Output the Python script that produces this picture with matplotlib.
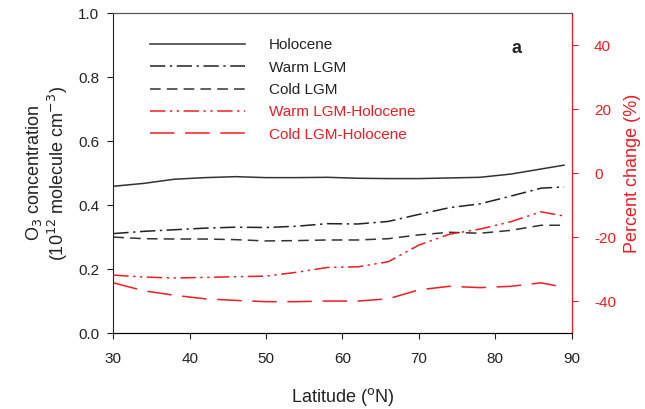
import matplotlib
matplotlib.use("Agg")
import matplotlib.pyplot as plt

plt.rcParams['font.family'] = ['Liberation Sans', 'DejaVu Sans']
plt.rcParams['axes.unicode_minus'] = False

# latitude grid (4x5 model box centres)
lat = [30, 34, 38, 42, 46, 50, 54, 58, 62, 66, 70, 74, 78, 82, 86, 89]

# O3 concentration (1e12 molecule cm-3)
holocene = [0.459, 0.468, 0.481, 0.486, 0.489, 0.486, 0.486, 0.487,
            0.484, 0.483, 0.483, 0.485, 0.487, 0.497, 0.513, 0.525]
warm_lgm = [0.311, 0.318, 0.323, 0.328, 0.331, 0.330, 0.334, 0.342,
            0.341, 0.349, 0.371, 0.392, 0.404, 0.428, 0.453, 0.457]
cold_lgm = [0.300, 0.295, 0.294, 0.294, 0.292, 0.288, 0.289, 0.291,
            0.291, 0.295, 0.307, 0.315, 0.312, 0.321, 0.337, 0.337]

# percent change relative to Holocene
warm_diff = [-31.9, -32.5, -32.8, -32.6, -32.4, -32.2, -31.0, -29.5,
             -29.3, -27.7, -22.5, -19.1, -17.5, -15.2, -12.1, -13.4]
cold_diff = [-34.3, -36.8, -38.2, -39.3, -39.8, -40.2, -40.2, -40.0,
             -40.0, -39.3, -36.5, -35.4, -35.8, -35.4, -34.3, -35.7]

red = '#ee1c24'

fig = plt.figure(figsize=(6.45, 4.09), dpi=100)
ax = fig.add_axes([0.1757, 0.1858, 0.8863 - 0.1757, 0.9675 - 0.1858])
ax2 = ax.twinx()

l1, = ax.plot(lat, holocene, color='#333333', lw=1.1, label='Holocene')
l2, = ax.plot(lat, warm_lgm, color='#222222', lw=1.1, dashes=(10, 3, 1.5, 3),
              label='Warm LGM')
l3, = ax.plot(lat, cold_lgm, color='#333333', lw=1.1, dashes=(7, 4),
              label='Cold LGM')
l4, = ax2.plot(lat, warm_diff, color=red, lw=1.1,
               dashes=(10, 3, 1.5, 3, 1.5, 3), label='Warm LGM-Holocene')
l5, = ax2.plot(lat, cold_diff, color=red, lw=1.1, dashes=(16, 7),
               label='Cold LGM-Holocene')

ax.set_xlim(30, 90)
ax.set_ylim(0, 1.0)
ax2.set_ylim(-50, 50)
ax.set_xticks([30, 40, 50, 60, 70, 80, 90])
ax.set_yticks([0.0, 0.2, 0.4, 0.6, 0.8, 1.0])
ax.set_yticklabels(['0.0', '0.2', '0.4', '0.6', '0.8', '1.0'])
ax2.set_yticks([-40, -20, 0, 20, 40])

ax.tick_params(labelsize=11, direction='out', length=4, width=0.8,
               colors='#222222')
ax.tick_params(axis='x', pad=10)
ax.tick_params(axis='y', pad=6)
ax2.tick_params(labelsize=11, direction='out', length=4, width=0.8,
                colors=red, pad=12)

for side in ['left', 'bottom']:
    ax.spines[side].set_color('#222222')
ax.spines['top'].set_color('#555555')
ax2.spines['top'].set_color('#555555')
ax2.spines['right'].set_color(red)
ax2.spines['left'].set_visible(False)

ax.set_xlabel('Latitude ($^{\\rm o}$N)', fontsize=13, color='#222222',
              labelpad=14)
ax.set_ylabel('O$_3$ concentration\n(10$^{12}$ molecule cm$^{-3}$)',
              fontsize=13, color='#222222', labelpad=6, linespacing=1.1)
ax2.set_ylabel('Percent change (%)', fontsize=13, color=red, labelpad=6)

leg = ax.legend(handles=[l1, l2, l3, l4, l5], loc='upper left',
                bbox_to_anchor=(0.05, 0.965), frameon=False, fontsize=11,
                handlelength=6.2, handletextpad=1.6, labelspacing=0.55)
for txt in leg.get_texts()[3:]:
    txt.set_color(red)
for txt in leg.get_texts()[:3]:
    txt.set_color('#222222')

ax.text(0.88, 0.89, 'a', transform=ax.transAxes, fontsize=13,
        fontweight='bold', ha='center', va='center', color='#222222')

fig.savefig('out.png', dpi=100)
